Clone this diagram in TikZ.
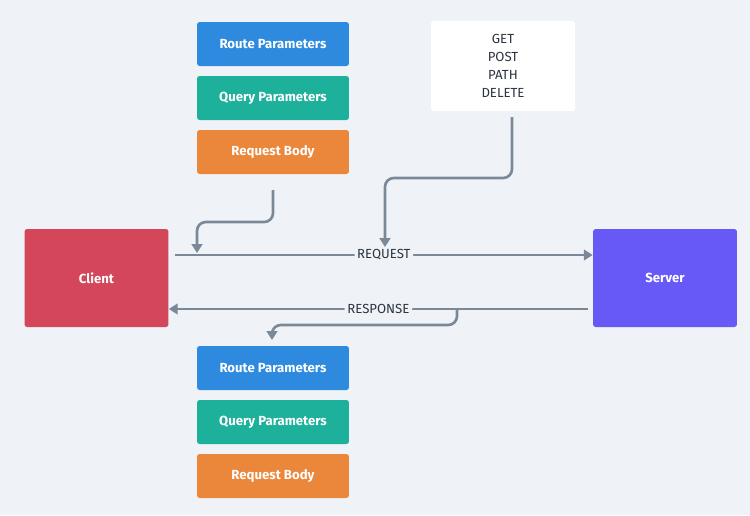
\documentclass[tikz,border=0pt]{standalone}
\usepackage{fontspec}
\setmainfont{Fira Sans}
\usetikzlibrary{arrows.meta}
\definecolor{bg}{HTML}{EFF3F7}
\definecolor{wire}{HTML}{7A8898}
\definecolor{routeblue}{HTML}{2E8ADE}
\definecolor{queryteal}{HTML}{1DB09B}
\definecolor{bodyorange}{HTML}{EA873B}
\definecolor{clientred}{HTML}{D4465A}
\definecolor{serverpurple}{HTML}{6659F5}
\definecolor{labeltext}{HTML}{2B3440}
\tikzset{
  param/.style={rectangle, rounded corners=1.5pt, minimum width=3.04cm, minimum height=0.88cm,
    text=white, font=\fontsize{7.5}{8}\selectfont\bfseries},
  party/.style={rectangle, rounded corners=1.5pt, minimum width=2.88cm, minimum height=1.96cm,
    text=white, font=\fontsize{7.5}{8}\selectfont\bfseries},
  conn/.style={draw=wire, line width=1.5pt, rounded corners=5pt,
    -{Triangle[length=5pt,width=6pt]}},
  tag/.style={fill=bg, text=labeltext, inner sep=1.5pt, font=\fontsize{7.5}{8}\selectfont}
}
\begin{document}
\begin{tikzpicture}[x=0.02cm, y=-0.02cm]
  \fill[bg] (0,0) rectangle (750,515);
  \useasboundingbox (0,0) rectangle (750,515);

  % request side
  \node[param, fill=routeblue] (routeup) at (273,44) {Route Parameters};
  \node[param, fill=queryteal] (queryup) at (273,98) {Query Parameters};
  \node[param, fill=bodyorange] (bodyup) at (273,152) {Request Body};
  \node[rectangle, rounded corners=1.5pt, fill=white, minimum width=2.88cm, minimum height=1.8cm,
    align=center, text=labeltext, font=\fontsize{7.5}{10.2}\selectfont] (methods) at (503,66)
    {GET\\POST\\PATH\\DELETE};

  % response side
  \node[param, fill=routeblue] (routedown) at (273,368) {Route Parameters};
  \node[param, fill=queryteal] (querydown) at (273,422) {Query Parameters};
  \node[param, fill=bodyorange] (bodydown) at (273,476) {Request Body};

  \node[party, fill=clientred] (client) at (96.5,278) {Client};
  \node[party, fill=serverpurple] (server) at (665,278) {Server};

  \coordinate (reqstart) at (175,255);
  \coordinate (resstart) at (588,309);
  \coordinate (bodyout) at (273,190);
  \coordinate (methodsout) at (512,117);
  \coordinate (reqjoin) at (197,253);
  \coordinate (methjoin) at (385,247);
  \coordinate (resjoin) at (457,309);
  \coordinate (resend) at (272,340);

  \draw[conn] (reqstart) -- (server.west |- reqstart) node[tag, pos=0.5] {REQUEST};
  \draw[conn] (resstart) -- (client.east |- resstart) node[tag, pos=0.5] {RESPONSE};
  \draw[conn] (bodyout) -- (273,222) -- (197,222) -- (reqjoin);
  \draw[conn] (methodsout) -- (512,178) -- (385,178) -- (methjoin);
  \draw[conn] (resjoin) -- (457,325) -- (272,325) -- (resend);
\end{tikzpicture}
\end{document}
